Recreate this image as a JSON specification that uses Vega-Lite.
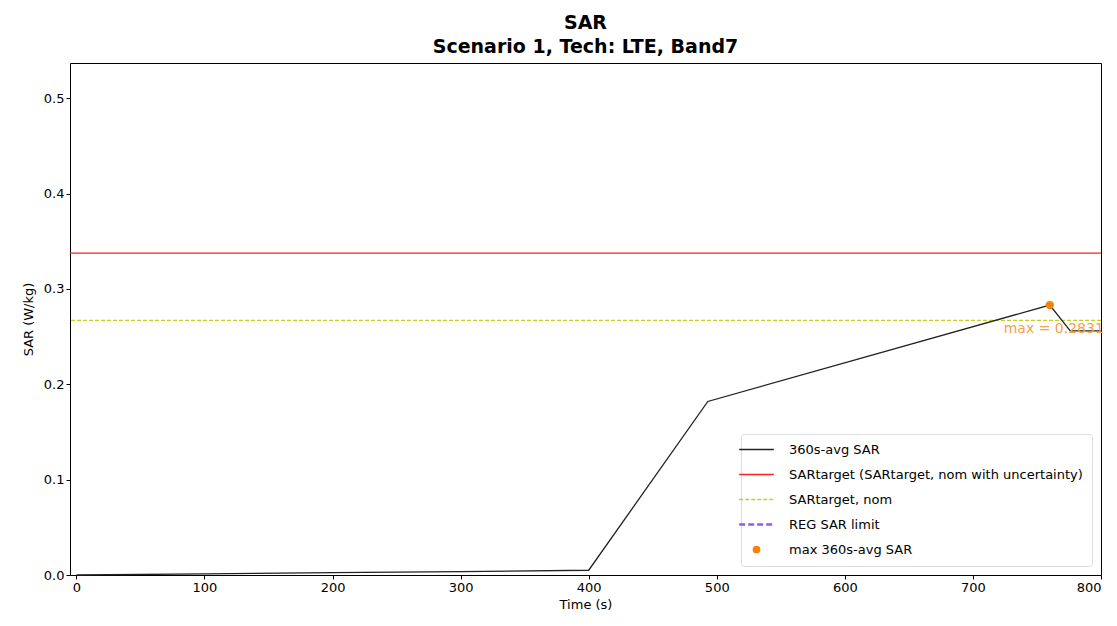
{
  "$schema": "https://vega.github.io/schema/vega-lite/v6.json",
  "width": 1031,
  "height": 512,
  "autosize": "none",
  "padding": {"left": 70, "top": 63, "right": 16, "bottom": 51},
  "background": "white",
  "config": {
    "font": "DejaVu Sans",
    "view": {"stroke": "black", "strokeWidth": 1},
    "axis": {"grid": false, "domain": false, "tickColor": "black", "tickSize": 4, "labelColor": "black", "labelFontSize": 13, "titleFontSize": 13, "titleFontWeight": "normal", "titleColor": "black", "labelFont": "DejaVu Sans", "titleFont": "DejaVu Sans"}
  },
  "title": {
    "text": "SAR",
    "subtitle": "Scenario 1, Tech: LTE, Band7",
    "anchor": "middle",
    "fontSize": 19,
    "fontWeight": "bold",
    "subtitleFontSize": 19,
    "subtitleFontWeight": "bold",
    "subtitleColor": "black",
    "color": "black",
    "font": "DejaVu Sans",
    "subtitleFont": "DejaVu Sans",
    "offset": 6,
    "subtitlePadding": 5
  },
  "datasets": {
    "avg": [
      {"t": 0, "sar": 0.0, "series": "360s-avg SAR"},
      {"t": 100, "sar": 0.0012, "series": "360s-avg SAR"},
      {"t": 200, "sar": 0.0024, "series": "360s-avg SAR"},
      {"t": 300, "sar": 0.0036, "series": "360s-avg SAR"},
      {"t": 400, "sar": 0.005, "series": "360s-avg SAR"},
      {"t": 493, "sar": 0.182, "series": "360s-avg SAR"},
      {"t": 760, "sar": 0.2831, "series": "360s-avg SAR"},
      {"t": 776, "sar": 0.256, "series": "360s-avg SAR"},
      {"t": 800, "sar": 0.256, "series": "360s-avg SAR"}
    ],
    "levels": [
      {"sar": 0.3375, "series": "SARtarget (SARtarget, nom with uncertainty)"},
      {"sar": 0.267, "series": "SARtarget, nom"}
    ],
    "maxpt": [
      {"t": 760, "sar": 0.2831, "series": "max 360s-avg SAR", "label": "max = 0.2831"}
    ]
  },
  "resolve": {"scale": {"color": "shared", "strokeDash": "shared"}},
  "layer": [
    {
      "data": {"name": "levels"},
      "mark": {"type": "rule", "strokeWidth": 1.3},
      "encoding": {
        "y": {"field": "sar", "type": "quantitative", "title": "SAR (W/kg)", "scale": {"domain": [0, 0.537], "nice": false}, "axis": {"values": [0, 0.1, 0.2, 0.3, 0.4, 0.5], "format": ".1f", "titlePadding": 8}},
        "color": {"field": "series", "type": "nominal",
          "scale": {"domain": ["360s-avg SAR", "SARtarget (SARtarget, nom with uncertainty)", "SARtarget, nom", "REG SAR limit", "max 360s-avg SAR"], "range": ["#222222", "#ff2020", "#c4d21c", "#8a5cf0", "#f5820f"]},
          "legend": {
            "title": null,
            "orient": "bottom-right",
            "offset": 9,
            "labelFontSize": 13,
            "labelColor": "black",
            "labelFont": "DejaVu Sans",
            "labelLimit": 500,
            "labelOffset": 26,
            "symbolType": "stroke",
            "symbolSize": 1200,
            "symbolStrokeWidth": 1.5,
            "rowPadding": 11,
            "padding": 9,
            "fillColor": "white",
            "strokeColor": "#dddddd",
            "cornerRadius": 3,
            "encode": {
              "symbols": {"update": {
                "shape": {"signal": "datum.value == 'max 360s-avg SAR' ? 'circle' : 'stroke'"},
                "size": {"signal": "datum.value == 'max 360s-avg SAR' ? 60 : 1200"},
                "strokeDash": {"signal": "datum.value == 'SARtarget, nom' ? [4, 2] : (datum.value == 'REG SAR limit' ? [8, 5] : [1, 0])"},
                "strokeWidth": {"signal": "datum.value == 'max 360s-avg SAR' ? 0 : (datum.value == 'REG SAR limit' ? 2.5 : 1.5)"},
                "fill": {"signal": "datum.value == 'max 360s-avg SAR' ? '#f5820f' : 'transparent'"}
              }}
            }
          }
        },
        "strokeDash": {"field": "series", "type": "nominal", "scale": {"domain": ["360s-avg SAR", "SARtarget (SARtarget, nom with uncertainty)", "SARtarget, nom", "REG SAR limit", "max 360s-avg SAR"], "range": [[1, 0], [1, 0], [4, 2], [6, 3], [1, 0]]}, "legend": null}
      }
    },
    {
      "data": {"name": "avg"},
      "mark": {"type": "line", "strokeWidth": 1.3},
      "encoding": {
        "x": {"field": "t", "type": "quantitative", "title": "Time (s)", "scale": {"domain": [-5, 800], "nice": false, "zero": false}, "axis": {"values": [0, 100, 200, 300, 400, 500, 600, 700, 800], "titlePadding": 4}},
        "y": {"field": "sar", "type": "quantitative"},
        "color": {"field": "series", "type": "nominal"}
      }
    },
    {
      "data": {"name": "maxpt"},
      "mark": {"type": "point", "filled": true, "size": 70, "opacity": 1},
      "encoding": {
        "x": {"field": "t", "type": "quantitative"},
        "y": {"field": "sar", "type": "quantitative"},
        "color": {"field": "series", "type": "nominal"}
      }
    },
    {
      "data": {"name": "maxpt"},
      "mark": {"type": "text", "align": "center", "baseline": "top", "dy": 17, "dx": 4, "fontSize": 14, "color": "#f5a050"},
      "encoding": {
        "x": {"field": "t", "type": "quantitative"},
        "y": {"field": "sar", "type": "quantitative"},
        "text": {"field": "label"}
      }
    }
  ]
}
